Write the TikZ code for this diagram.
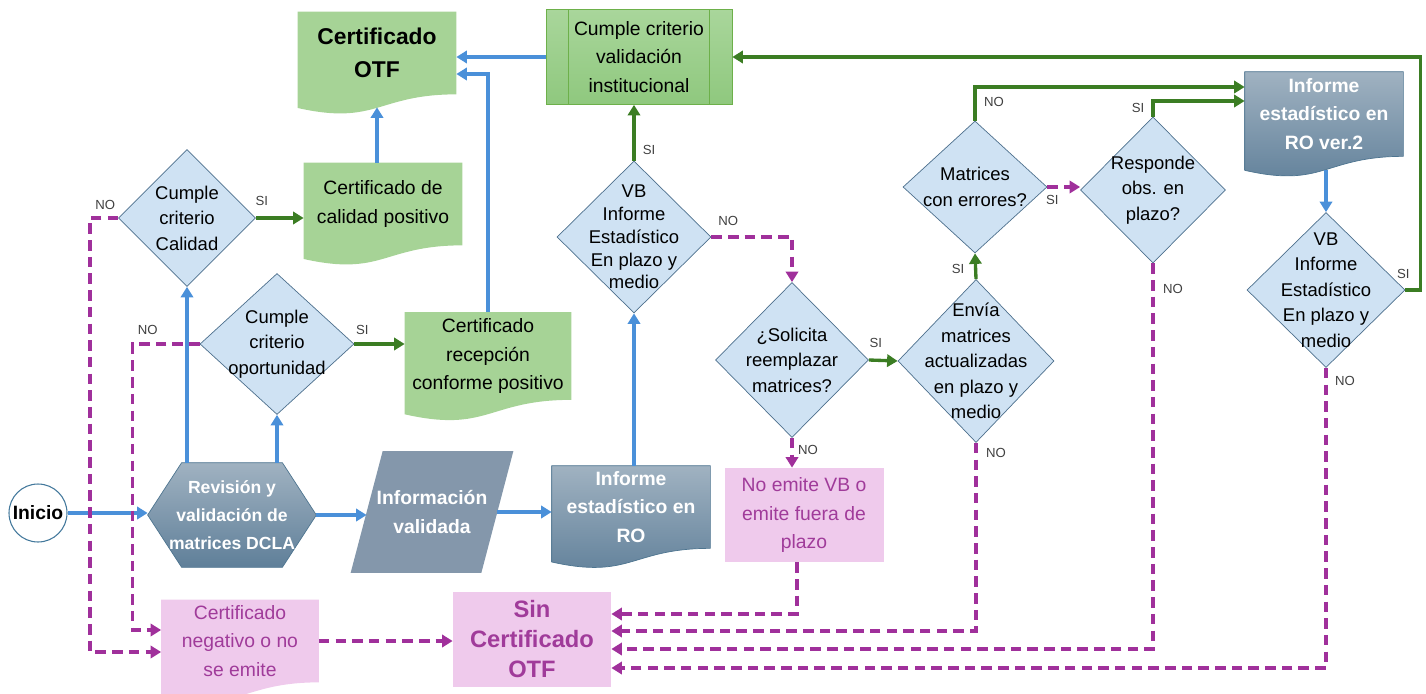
\documentclass[tikz,border=0pt]{standalone}
\usepackage{fontspec}
\setmainfont{Liberation Sans}
\usepackage{tikz}
\usetikzlibrary{arrows.meta}
\usetikzlibrary{positioning}
\usetikzlibrary{shapes.geometric}
\usetikzlibrary{calc}
\usetikzlibrary{backgrounds}
\definecolor{lnblue}{HTML}{4A90D9}
\definecolor{lngreen}{HTML}{3B7D23}
\definecolor{lnmag}{HTML}{A0309B}
\definecolor{dfill}{HTML}{CFE2F3}
\definecolor{ddraw}{HTML}{4D6F8C}
\definecolor{gtop}{HTML}{A0B2C1}
\definecolor{gbot}{HTML}{5F7F99}
\definecolor{gdraw}{HTML}{4E7590}
\definecolor{cgreen}{HTML}{A6D396}
\definecolor{vtop}{HTML}{A9D69B}
\definecolor{vbot}{HTML}{8FC87E}
\definecolor{vdraw}{HTML}{6DB04A}
\definecolor{pinkbox}{HTML}{EFCAEC}
\definecolor{ptext}{HTML}{A03B9A}
\definecolor{parafill}{HTML}{8497AB}
\definecolor{inidraw}{HTML}{41779B}
\newcommand{\unitpx}{0.02cm}
\tikzset{wh/.style 2 args={minimum width=#1*\unitpx,minimum height=#2*\unitpx}}
\tikzstyle{dec}=[diamond,draw=ddraw,fill=dfill,thin,inner sep=0pt]
\tikzstyle{dtxt}=[align=center,inner sep=0pt,font=\fontsize{10.5}{14.5}\selectfont]
\tikzstyle{btxt}=[align=center,inner sep=0pt,font=\fontsize{11}{16.4}\selectfont]
\tikzstyle{wtxt}=[align=center,inner sep=0pt,text=white,font=\bfseries\fontsize{11}{16.4}\selectfont]
\tikzstyle{ptxt}=[align=center,inner sep=0pt,text=ptext,fill=pinkbox,font=\fontsize{11}{16.4}\selectfont]
\tikzstyle{lbl}=[inner sep=0pt,text=black!75,font=\fontsize{7.5}{9}\selectfont]
\tikzstyle{blu}=[draw=lnblue,line width=1.9pt,-{Triangle[length=6pt,width=7pt]}]
\tikzstyle{grn}=[draw=lngreen,line width=1.9pt,-{Triangle[length=6pt,width=7pt]}]
\tikzstyle{nol}=[draw=lnmag,line width=2.1pt,dash pattern=on 6pt off 3.5pt,-{Triangle[length=6pt,width=7pt]}]
\newcommand{\docshape}[2]{\path[#2] (#1.north west) -- (#1.north east) -- (#1.south east) .. controls (#1.south) and ($(#1.north)!1.38!(#1.south)$) .. ($(#1.north west)!1.1646!(#1.south west)$) -- cycle;}
\newcommand{\hexshape}[2]{\path[#2] (#1.west) -- ($(#1.north west)+(34,0)$) -- ($(#1.north east)+(-34,0)$) -- (#1.east) -- ($(#1.south east)+(-34,0)$) -- ($(#1.south west)+(34,0)$) -- cycle;}
\newcommand{\parashape}[2]{\path[#2] ($(#1.north west)+(16,0)$) -- ($(#1.north east)+(16,0)$) -- ($(#1.south east)+(-16,0)$) -- ($(#1.south west)+(-16,0)$) -- cycle;}

\begin{document}
\begin{tikzpicture}[x=\unitpx,y=-\unitpx]
\tikzstyle{inicio}=[circle,draw=inidraw,fill=white,semithick,minimum size=58*\unitpx,inner sep=0pt,font=\bfseries\fontsize{11}{13}\selectfont]
\useasboundingbox (0,0) rectangle (1426,693);

\node[inicio] (ini) at (38,513) {Inicio};
\node[wtxt,wh={168}{104},font=\bfseries\fontsize{10}{16}\selectfont] (rev) at (232,515) {Revisión y\\validación de\\matrices DCLA};
\node[wtxt,wh={130}{121}] (para) at (432,512) {Información\\validada};
\node[wtxt,wh={158}{82}] (ro) at (631,507) {Informe\\estadístico en\\RO};
\node[wtxt,wh={158}{84}] (ro2) at (1324,114) {Informe\\estadístico en\\RO ver.2};

\node[btxt,wh={158}{82},font=\bfseries\fontsize{13}{19}\selectfont] (otf) at (377,53) {Certificado\\OTF};
\node[btxt,wh={158}{82}] (cal) at (383,204) {Certificado de\\calidad positivo};
\node[btxt,wh={166}{87}] (rec) at (488,356) {Certificado\\recepción\\conforme positivo};
\node[btxt,wh={186}{95},draw=vdraw,top color=vtop,bottom color=vbot] (val) at (639,57) {Cumple criterio\\validación\\institucional};

\node[ptxt,wh={159}{94}] (noe) at (804,515) {No emite VB o\\emite fuera de\\plazo};
\node[ptxt,wh={158}{95},font=\bfseries\fontsize{13.5}{17}\selectfont] (sin) at (532,639) {Sin\\Certificado\\OTF};
\node[ptxt,fill=none,wh={157}{82}] (neg) at (240,641) {Certificado\\negativo o no\\se emite};

\node[dec,wh={137}{137}] (d1) at (187,218) {};
\node[dtxt] (d1t) at (d1) {Cumple\\criterio\\Calidad};
\node[dec,wh={154}{141}] (d2) at (277,344) {};
\node[dtxt] (d2t) at (d2) {Cumple\\criterio\\oportunidad};
\node[dec,wh={154}{152}] (d3) at (634,237) {};
\node[dtxt,font=\fontsize{10.5}{13}\selectfont] (d3t) at (d3) {VB\\Informe\\Estadístico\\En plazo y\\medio};
\node[dec,wh={153}{155}] (d4) at (792,360) {};
\node[dtxt] (d4t) at (d4) {¿Solicita\\reemplazar\\matrices?};
\node[dec,wh={156}{163}] (d5) at (976,361) {};
\node[dtxt] (d5t) at (d5) {Envía\\matrices\\actualizadas\\en plazo y\\medio};
\node[dec,wh={144}{132}] (d6) at (975,187) {};
\node[dtxt] (d6t) at (d6) {Matrices\\con errores?};
\node[dec,wh={145}{146}] (d7) at (1153,190) {};
\node[dtxt] (d7t) at (d7) {Responde\\obs. en\\plazo?};
\node[dec,wh={158}{155}] (d8) at (1326,290) {};
\node[dtxt] (d8t) at (d8) {VB\\Informe\\Estadístico\\En plazo y\\medio};

\draw[vdraw] ($(val.north west)+(23,0)$) -- ($(val.south west)+(23,0)$);
\draw[vdraw] ($(val.north east)+(-23,0)$) -- ($(val.south east)+(-23,0)$);

\draw[blu] (ini.east) -- (ini.east -| rev.west);
\draw[blu] (rev.east) -- (rev.east -| para.west);
\draw[blu] (para.east) -- (para.east -| ro.west);
\draw[blu] (d1.south |- rev.north) -- (d1.south);
\draw[blu] (d2.south |- rev.north) -- (d2.south);
\draw[blu] (otf.south |- cal.north) -- ($(otf.south)+(0,13)$);
\draw[blu] (rec.north) |- ($(otf.east)+(0,21)$);
\draw[blu] (val.west) -- (val.west -| otf.east);
\draw[blu] (d3.south |- ro.north) -- (d3.south);
\draw[blu] ($(d8.north |- ro2.south)+(0,14)$) -- (d8.north);

\draw[grn] (d1.east) -- (d1.east -| cal.west);
\draw[grn] (d2.east) -- (d2.east -| rec.west);
\draw[grn] (d3.north) -- (d3.north |- val.south);
\draw[grn] (d4.east) -- (d5.west);
\draw[grn] (d5.north) -- (d6.south);
\draw[grn] (d6.north) |- ($(ro2.west)+(0,-27)$);
\draw[grn] (d7.north) |- ($(ro2.west)+(0,-13)$);
\draw[grn] (d8.east) -- ++(15,0) |- (val.east);

\draw[nol] (d1.west) -- ++(-28,0) |- ($(neg.west)+(0,11)$);
\draw[nol] (d2.west) -- ++(-67,0) |- ($(neg.west)+(0,-11)$);
\draw[nol] (neg.east) -- (neg.east -| sin.west);
\draw[nol] (d3.east) -| (d4.north);
\draw[nol] (d4.south) -- (d4.south |- noe.north);
\draw[nol] ($(noe.south)+(-7,0)$) |- ($(sin.east)+(0,-25)$);
\draw[nol] (d5.south) |- ($(sin.east)+(0,-8)$);
\draw[nol] (d7.south) |- ($(sin.east)+(0,10)$);
\draw[nol] (d8.south) |- ($(sin.east)+(0,29)$);
\draw[nol] (d6.east) -- (d6.east -| d7.west);

\node[lbl] (no1) at ($(d1.west)+(-13,-13)$) {NO};
\node[lbl] (si1) at ($(d1.east)+(6,-17)$) {SI};
\node[lbl] (no2) at ($(d2.west)+(-52,-14)$) {NO};
\node[lbl] (si2) at ($(d2.east)+(8,-14)$) {SI};
\node[lbl] (si3) at ($(d3.north)+(15,-11)$) {SI};
\node[lbl] (no3) at ($(d3.east)+(17,-16)$) {NO};
\node[lbl] (si4) at ($(d4.east)+(7,-17)$) {SI};
\node[lbl] (no4) at ($(d4.south)+(16,12)$) {NO};
\node[lbl] (si5) at ($(d5.north)+(-18,-10)$) {SI};
\node[lbl] (no5) at ($(d5.south)+(20,10)$) {NO};
\node[lbl] (no6) at ($(d6.north)+(19,-19)$) {NO};
\node[lbl] (si6) at ($(d6.east)+(5,13)$) {SI};
\node[lbl] (si7) at ($(d7.north)+(-15,-9)$) {SI};
\node[lbl] (no7) at ($(d7.south)+(20,26)$) {NO};
\node[lbl] (si8) at ($(d8.east)+(-2,-16)$) {SI};
\node[lbl] (no8) at ($(d8.south)+(19,13)$) {NO};

\begin{scope}[on background layer]
\docshape{otf}{fill=cgreen}
\docshape{cal}{fill=cgreen}
\docshape{rec}{fill=cgreen}
\docshape{neg}{fill=pinkbox}
\docshape{ro}{top color=gtop,bottom color=gbot,draw=gdraw,thin}
\docshape{ro2}{top color=gtop,bottom color=gbot,draw=gdraw,thin}
\hexshape{rev}{top color=gtop,bottom color=gbot,draw=gdraw,thin}
\parashape{para}{fill=parafill}
\end{scope}
\end{tikzpicture}
\end{document}
